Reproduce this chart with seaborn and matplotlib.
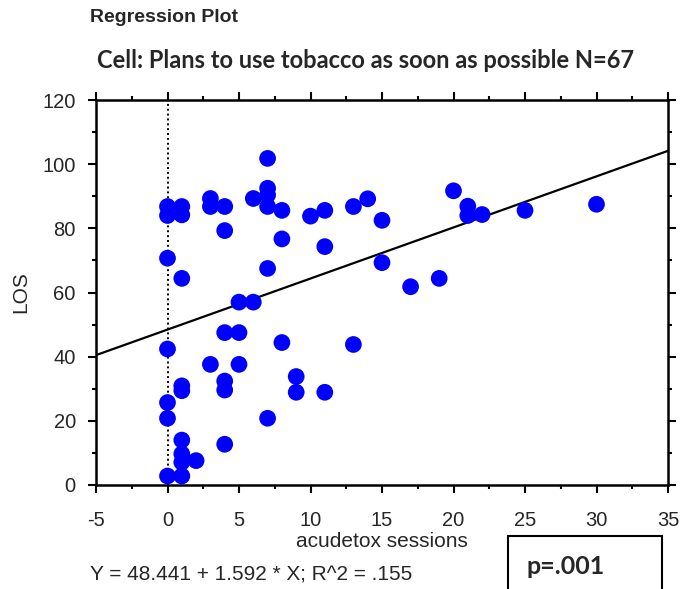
import matplotlib
matplotlib.use("Agg")
import matplotlib.pyplot as plt
import seaborn as sns
import numpy as np
import pandas as pd
from matplotlib.patches import Rectangle
from matplotlib.ticker import MultipleLocator, FuncFormatter

sessions = [0, 0, 0, 0, 0, 0, 0,
            1, 1, 1, 1, 1, 1, 1, 1, 1,
            2,
            3, 3, 3,
            4, 4, 4, 4, 4, 4,
            5, 5, 5,
            6, 6,
            7, 7, 7, 7, 7, 7,
            8, 8, 8,
            9, 9,
            10,
            11, 11, 11,
            13, 13,
            14,
            15, 15,
            17, 19, 20, 21, 21, 22, 25, 30]
los = [86.8, 84.0, 70.7, 42.4, 25.7, 20.8, 2.8,
       86.8, 84.2, 64.4, 30.9, 29.4, 14.0, 9.7, 7.1, 2.8,
       7.6,
       89.3, 86.8, 37.6,
       86.8, 79.3, 47.5, 32.4, 29.6, 12.7,
       57.0, 47.5, 37.6,
       57.0, 89.3,
       101.8, 92.5, 90.4, 86.8, 67.5, 20.8,
       85.6, 76.7, 44.4,
       33.8, 28.9,
       83.8,
       85.6, 74.3, 28.9,
       86.8, 43.8,
       89.2,
       82.5, 69.3,
       61.8, 64.4, 91.7, 86.9, 84.0, 84.3, 85.6, 87.5]
intercept = 48.441
slope = 1.592
x_range = [-5, 35]

df = pd.DataFrame({"acudetox sessions": sessions, "LOS": los})

sns.set_style("white")
plt.rcParams['font.family'] = ['Liberation Sans', 'DejaVu Sans']

fig = plt.figure(figsize=(6.83, 5.89), dpi=100)
ax = fig.add_axes([96/683, 1-485/589, (668-96)/683, (485-100)/589])

sns.scatterplot(data=df, x="acudetox sessions", y="LOS", ax=ax,
                color="#0000FF", s=145, edgecolor="none", zorder=3)
xs = np.array(x_range, dtype=float)
sns.lineplot(x=xs, y=intercept + slope * xs, ax=ax, color="black", linewidth=1.6, zorder=2)
ax.axvline(0, color="black", linestyle=(0, (1, 1.5)), linewidth=1.4, zorder=1)

ax.set_xlim(-5, 35)
ax.set_ylim(0, 120)
ax.xaxis.set_major_locator(MultipleLocator(5))
ax.xaxis.set_minor_locator(MultipleLocator(2.5))
ax.yaxis.set_major_locator(MultipleLocator(20))
ax.yaxis.set_minor_locator(MultipleLocator(10))
ax.xaxis.set_major_formatter(FuncFormatter(lambda v, p: f"{v:.0f}"))
ax.yaxis.set_major_formatter(FuncFormatter(lambda v, p: f"{v:.0f}"))
for s in ax.spines.values():
    s.set_linewidth(1.8)
    s.set_color("black")
ax.tick_params(which="both", direction="out", top=True, right=True, bottom=True, left=True,
               color="black", width=1.5)
ax.tick_params(which="major", length=5.5, labelsize=14.5)
ax.tick_params(which="minor", length=3)
ax.tick_params(axis="x", which="major", pad=13)
ax.tick_params(axis="y", which="major", pad=9)
ax.tick_params(labeltop=False, labelright=False)

ax.set_xlabel("acudetox sessions", fontsize=15, labelpad=2)
ax.set_ylabel("LOS", fontsize=15, labelpad=9)

fig.text(90/683, 1-18/589, "Regression Plot", fontsize=14, fontweight="bold",
         ha="left", va="center")
fig.text(365/683, 1-61/589, "Cell: Plans to use tobacco as soon as possible N=67",
         fontsize=17, fontweight="bold", ha="center", va="center",
         family=["Lato", "DejaVu Sans"])
fig.text(90/683, 1-575/589, "Y = 48.441 + 1.592 * X; R^2 = .155", fontsize=15,
         ha="left", va="center")
fig.patches.append(Rectangle((508/683, -0.02), (662-508)/683, (589-536)/589 + 0.02,
                             transform=fig.transFigure, fill=False, edgecolor="black",
                             linewidth=1.5))
fig.text(527/683, 1-566/589, "p=.001", fontsize=18, fontweight="bold",
         ha="left", va="center", family=["Lato", "DejaVu Sans"])

fig.savefig("out.png", dpi=100)
